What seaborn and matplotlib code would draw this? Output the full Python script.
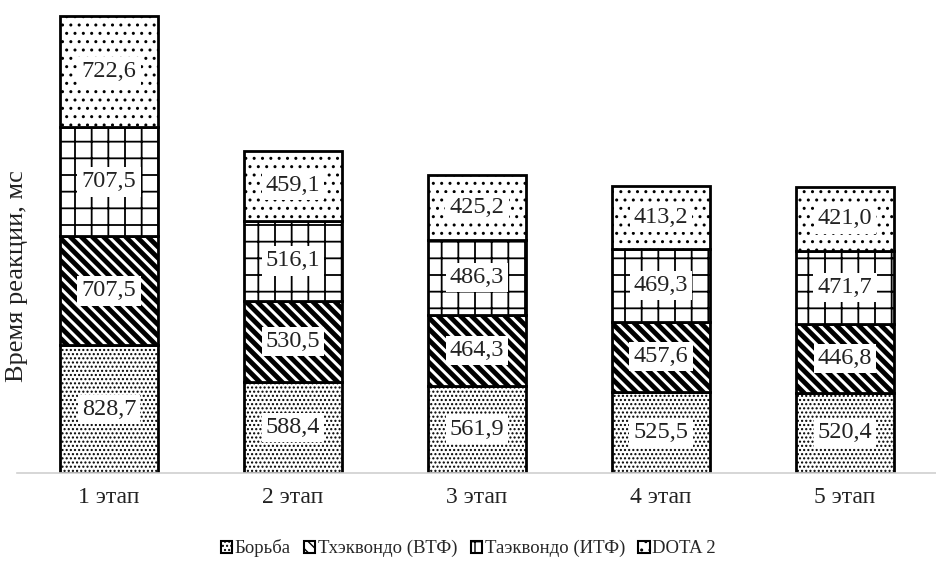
import matplotlib
matplotlib.use("Agg")
import numpy as np
import pandas as pd
import matplotlib.pyplot as plt
import seaborn as sns
from matplotlib.patches import Patch

# ---------------- data ----------------
stages = ["1 этап", "2 этап", "3 этап", "4 этап", "5 этап"]
series_names = ["Борьба", "Тхэквондо (ВТФ)", "Таэквондо (ИТФ)", "DOTA 2"]
borba = [828.7, 588.4, 561.9, 525.5, 520.4]
wtf = [707.5, 530.5, 464.3, 457.6, 446.8]
itf = [707.5, 516.1, 486.3, 469.3, 471.7]
dota = [722.6, 459.1, 425.2, 413.2, 421.0]

hatches = ["....", "\\\\\\", "+", ".."]
hatch_lw = [1.0, 3.5, 1.3, 1.0]

# ---------------- style ----------------
sns.set_theme(style="white")
plt.rcParams["font.family"] = ["Liberation Serif", "DejaVu Serif"]

fig = plt.figure(figsize=(9.37, 5.76), dpi=100)
ax = fig.add_axes([17 / 937, 1 - 473 / 576, 1 - 17 / 937, (473 - 11) / 576])

bottom = np.zeros(len(stages))
for vals, name, h, hlw in zip([borba, wtf, itf, dota], series_names, hatches, hatch_lw):
    df = pd.DataFrame({"stage": stages, "value": vals})
    plt.rcParams["hatch.linewidth"] = hlw
    n_before = len(ax.patches)
    sns.barplot(data=df, x="stage", y="value", ax=ax, color="white",
                edgecolor="black", linewidth=2, hatch=h, width=0.53,
                bottom=bottom, errorbar=None, saturation=1)
    for p in ax.patches[n_before:]:
        if hasattr(p, "set_hatch_linewidth"):
            p.set_hatch_linewidth(hlw)
        p.set_facecolor("white")
    for i, v in enumerate(vals):
        ax.text(i, bottom[i] + v / 2, f"{v:.1f}".replace(".", ","),
                ha="center", va="center", fontsize=17.5, color="#222222",
                bbox=dict(facecolor="white", edgecolor="none", pad=3))
    bottom = bottom + np.array(vals)

plt.rcParams["hatch.linewidth"] = 1.0

ax.set_ylim(0, 3000)
ax.set_xlim(-0.5, len(stages) - 0.5)
ax.set_xlabel("")
ax.set_ylabel("")
ax.set_yticks([])
ax.tick_params(axis="x", labelsize=17, length=0, pad=10, colors="#222222")
for s in ["top", "left", "right"]:
    ax.spines[s].set_visible(False)
ax.spines["bottom"].set_color("#d0d0d0")
ax.spines["bottom"].set_linewidth(1.2)

fig.text(0.018, 0.52, "Время реакции, мс", rotation=90, ha="center",
         va="center", fontsize=19, color="#222222")

handles = [Patch(facecolor="white", edgecolor="black", hatch=h, linewidth=1.5)
           for h in hatches]
fig.legend(handles, series_names, loc="center", bbox_to_anchor=(0.5, 0.048),
           ncol=4, frameon=False, fontsize=13.5, handlelength=0.6,
           handleheight=0.6, handletextpad=0.15, columnspacing=0.7)

fig.savefig("out.png", dpi=100)
